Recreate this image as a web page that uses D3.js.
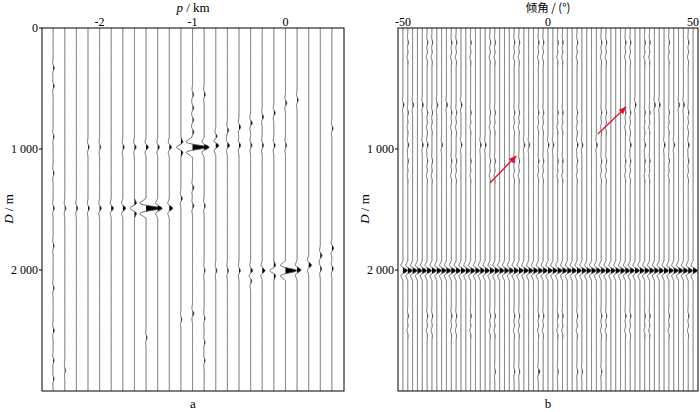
<!DOCTYPE html>
<head>
    <meta charset="utf-8">
    <title>wiggle sections</title>
    <style>
        body { margin: 0; background: #fff; }
        svg text { font-family: "Liberation Serif", "DejaVu Serif", serif; font-size: 12px; fill: #000; }
    </style>
</head>
<body>

<svg width="700" height="412" font-family="Liberation Serif, DejaVu Serif, serif"></svg>

<script src="https://d3js.org/d3.v7.min.js"></script>
<script>
    // trace positions of panel a (p, km) and panel b (dip, degrees)
    var pTraces = [-2.5, -2.375, -2.25, -2.125, -2, -1.875, -1.75, -1.625, -1.5, -1.375, -1.25, -1.125,
        -1, -0.875, -0.75, -0.625, -0.5, -0.375, -0.25, -0.125, 0, 0.125, 0.25, 0.375, 0.5];
    var dipTraces = [-50, -48.33, -46.67, -45, -43.33, -41.67, -40, -38.33, -36.67, -35, -33.33, -31.67,
        -30, -28.33, -26.67, -25, -23.33, -21.67, -20, -18.33, -16.67, -15, -13.33, -11.67, -10, -8.33,
        -6.67, -5, -3.33, -1.67, 0, 1.67, 3.33, 5, 6.67, 8.33, 10, 11.67, 13.33, 15, 16.67, 18.33, 20,
        21.67, 23.33, 25, 26.67, 28.33, 30, 31.67, 33.33, 35, 36.67, 38.33, 40, 41.67, 43.33, 45, 46.67,
        48.33, 50];

    var depthTicks = [0, 1000, 2000];
    var depthTicksB = [1000, 2000];
    var pTicks = [-2, -1, 0];
    var dipTicks = [-50, 0, 50];

    // source wavelet, one sample every 10 m
    var wavelet = [-0.05, -0.14, -0.27, -0.41, -0.43, -0.21, 0.26, 0.78, 1, 0.78, 0.26, -0.21, -0.43, -0.41, -0.27, -0.14, -0.05];

    // panel a events: [p, depth m, amplitude in trace spacings]
    var eventsA = [
        // focus near 1 000 m
        [-1, 985, 1.25], [-1.125, 985, -0.4], [-0.875, 985, 0.45], [-0.75, 970, 0.3], [-0.625, 970, 0.2],
        [-0.5, 970, 0.15], [-0.375, 970, 0.12], [-0.25, 970, 0.12], [-0.125, 970, 0.12], [0, 970, 0.1],
        [-1.25, 985, 0.2], [-1.375, 985, 0.15], [-1.5, 985, 0.2], [-1.625, 985, 0.15], [-1.75, 985, 0.12],
        [-2, 985, 0.1], [-2.125, 985, 0.1],
        [-0.75, 900, 0.15], [-0.625, 845, 0.12], [-0.5, 818, 0.15], [-0.375, 785, 0.15], [-0.25, 735, 0.12],
        [-0.125, 702, 0.12], [0, 620, 0.12], [0.125, 595, 0.1], [0.5, 830, 0.1],
        [-1, 550, 0.1], [-1, 660, 0.1], [-1, 760, 0.1], [-1, 860, 0.12], [-0.875, 550, 0.1],
        // focus near 1 500 m
        [-1.5, 1490, 1.25], [-1.625, 1490, -0.4], [-1.375, 1490, 0.4], [-1.25, 1490, 0.3], [-1.75, 1490, 0.25],
        [-1.875, 1490, 0.2], [-2, 1490, 0.15], [-2.125, 1490, 0.12], [-2.25, 1490, 0.12], [-2.375, 1490, 0.1],
        [-2.5, 1490, 0.1], [-1.125, 1410, 0.12], [-1, 1320, 0.12], [-1, 1470, 0.12], [-0.875, 1470, 0.1],
        // focus near 2 000 m
        [0, 2005, 1.0], [-0.125, 2005, -0.35], [0.125, 2000, 0.35], [0.25, 1960, 0.25], [0.375, 1880, 0.15],
        [0.375, 1990, 0.12], [0.5, 1820, 0.15], [0.5, 1990, 0.12], [-0.25, 2005, 0.25], [-0.375, 2005, 0.18],
        [-0.5, 2005, 0.12], [-0.625, 2005, 0.1], [-0.75, 2005, 0.1], [-0.875, 2005, 0.08], [-0.375, 2090, 0.1],
        // weak noise
        [-2.5, 330, 0.1], [-2.5, 480, 0.1], [-2.5, 900, 0.08], [-2.5, 1200, 0.08], [-2.5, 1800, 0.08],
        [-2.5, 2150, 0.08], [-2.5, 2500, 0.1], [-2.5, 2750, 0.08], [-2.5, 2900, 0.08],
        [-0.875, 2400, 0.08], [-0.875, 2600, 0.08], [-0.875, 2750, 0.08], [-1, 2360, 0.12],
        [-1.125, 2410, 0.08], [-1.5, 2560, 0.08], [-2.375, 2830, 0.07]
    ];

    // panel b: flat reflector seen on every trace
    var flatDepthB = 2005;
    var flatAmpB = 0.95;
    // weak marks near 640 m, 970 m and 2 840 m: dips
    var marks640 = [-50, -46, -44, -38, -35.5, -30, 30, 36, 38.5, 44.5, 46];
    var marks970 = [-48, -44, -42, -36, -30, -24, -22, -8, -6, 0, 2, 10, 12, 16, 28, 34, 40, 44, 48];
    var marks2840 = [-17.6, -12, -10, -3.8, -2.8, 3.4, 10.3, 11.7, 18];
    // traces with small wavy chains, and the chain depths / amplitudes
    var wavyDips = [-48.3, -41.7, -40, -33, -31.7, -26, -20, -18.3, -12, -10, -3.5, -1.7, 3.5, 5, 10.3, 19, 20,
        26, 28.3, 33, 35, 41, 48.3];
    var wavyDepths = [120, 240, 700, 820, 1100, 1220, 2380, 2500];
    var wavyAmps = [0.16, -0.16, 0.14, -0.14, 0.14, -0.14, 0.16, -0.16];

    // red arrows in panel b: [dip from, depth from, dip to, depth to]
    var arrowsB = [[-20, 1281, -11, 1058], [17.2, 876, 26.9, 653]];

    var svg = d3.select("svg");

    var y = d3.scaleLinear().domain([0, 3000]).range([28, 391]);
    var xa = d3.scaleLinear().domain([-2.62, 0.63]).range([42, 344]);
    var xb = d3.scaleLinear().domain([-51.7, 51.7]).range([398, 698]);

    var depthGrid = d3.range(0, 3001, 4);

    function waveAt(t) {
        var i = t / 10 + (wavelet.length - 1) / 2;
        if (i < 0 || i > wavelet.length - 1) return 0;
        var i0 = Math.floor(i), f = i - i0;
        return wavelet[i0] * (1 - f) + (wavelet[i0 + 1] || 0) * f;
    }

    function nearestIndex(list, v) {
        var best = 0;
        list.forEach(function(d, i) { if (Math.abs(d - v) < Math.abs(list[best] - v)) best = i; });
        return best;
    }

    // events grouped per trace index
    function groupEvents(list, events) {
        var g = list.map(function() { return []; });
        events.forEach(function(e) { g[nearestIndex(list, e[0])].push(e); });
        return g;
    }

    function drawPanel(list, x, events, step, stroke) {
        var k = Math.abs(x(step) - x(0));
        var groups = groupEvents(list, events);
        var g = svg.append("g");

        list.forEach(function(pos, i) {
            var x0 = x(pos);
            var s = depthGrid.map(function(d) {
                var v = 0;
                groups[i].forEach(function(e) { v += e[2] * waveAt(d - e[1]); });
                return { d: d, v: v };
            });

            g.append("path")
                .attr("d", d3.area()
                    .y(function(d) { return y(d.d); })
                    .x0(x0)
                    .x1(function(d) { return x0 + Math.max(0, d.v) * k; })(s))
                .attr("fill", "#000");

            g.append("path")
                .attr("d", d3.line()
                    .x(function(d) { return x0 + d.v * k; })
                    .y(function(d) { return y(d.d); })(s))
                .attr("fill", "none")
                .attr("stroke", stroke)
                .attr("stroke-width", 0.9);
        });
    }

    // build panel b events from the lists
    var eventsB = [];
    dipTraces.forEach(function(d) { eventsB.push([d, flatDepthB, flatAmpB]); });
    marks640.forEach(function(d) { eventsB.push([d, 636, 0.22]); });
    marks970.forEach(function(d) { eventsB.push([d, 967, 0.22]); });
    marks2840.forEach(function(d) { eventsB.push([d, 2840, 0.16]); });
    wavyDips.forEach(function(d) {
        wavyDepths.forEach(function(z, j) { eventsB.push([d, z, wavyAmps[j]]); });
    });

    drawPanel(pTraces, xa, eventsA, 0.125, "#555");
    drawPanel(dipTraces, xb, eventsB, 100 / 60, "#555");

    // frames
    [xa, xb].forEach(function(f) {
        svg.append("rect")
            .attr("x", f.range()[0]).attr("y", y(0))
            .attr("width", f.range()[1] - f.range()[0])
            .attr("height", y(3000) - y(0))
            .attr("fill", "none").attr("stroke", "#000").attr("stroke-width", 1);
    });

    // top axes
    svg.append("g").selectAll("text").data(pTicks).enter().append("text")
        .attr("x", function(d) { return xa(d); }).attr("y", 25.5)
        .attr("text-anchor", "middle").text(function(d) { return d; });
    svg.append("g").selectAll("text").data(dipTicks).enter().append("text")
        .attr("x", function(d) { return xb(d); }).attr("y", 25.5)
        .attr("text-anchor", "middle").text(function(d) { return d; });

    var tA = svg.append("text").attr("x", 193).attr("y", 12).attr("text-anchor", "middle").style("font-size", "13px");
    tA.append("tspan").attr("font-style", "italic").text("p");
    tA.append("tspan").text(" / km");
    svg.append("text").attr("x", 548).attr("y", 12).attr("text-anchor", "middle")
        .style("font-family", "'Noto Sans CJK SC', 'Liberation Serif', serif").style("font-size", "11.5px")
        .text("倾角 / (°)");

    // depth axes
    function depthAxis(left, ticks) {
        var g = svg.append("g");
        g.selectAll("line").data(ticks).enter().append("line")
            .attr("x1", left - 3).attr("x2", left)
            .attr("y1", function(d) { return y(d); }).attr("y2", function(d) { return y(d); })
            .attr("stroke", "#000");
        g.selectAll("text").data(ticks).enter().append("text")
            .attr("x", left - 4).attr("y", function(d) { return y(d); })
            .attr("dy", "0.35em").attr("text-anchor", "end")
            .text(function(d) { return d === 0 ? "0" : (d / 1000) + " 000"; });
        var t = svg.append("text")
            .attr("transform", "translate(" + (left - 29) + ",209) rotate(-90)")
            .attr("text-anchor", "middle").style("font-size", "13px");
        t.append("tspan").attr("font-style", "italic").text("D");
        t.append("tspan").text(" / m");
    }
    depthAxis(42, depthTicks);
    depthAxis(398, depthTicksB);

    // panel letters
    svg.append("text").attr("x", 193).attr("y", 408).attr("text-anchor", "middle").style("font-size", "13px").text("a");
    svg.append("text").attr("x", 548).attr("y", 408).attr("text-anchor", "middle").style("font-size", "13px").text("b");

    // red arrows
    svg.append("defs").append("marker")
        .attr("id", "head").attr("viewBox", "0 0 10 10")
        .attr("refX", 9).attr("refY", 5)
        .attr("markerWidth", 8).attr("markerHeight", 8)
        .attr("markerUnits", "userSpaceOnUse")
        .attr("orient", "auto")
        .append("path").attr("d", "M0,1L10,5L0,9Z").attr("fill", "#e8112d");

    svg.append("g").selectAll("line").data(arrowsB).enter().append("line")
        .attr("x1", function(d) { return xb(d[0]); }).attr("y1", function(d) { return y(d[1]); })
        .attr("x2", function(d) { return xb(d[2]); }).attr("y2", function(d) { return y(d[3]); })
        .attr("stroke", "#e8112d").attr("stroke-width", 1.3)
        .attr("marker-end", "url(#head)");
</script>

</body>
